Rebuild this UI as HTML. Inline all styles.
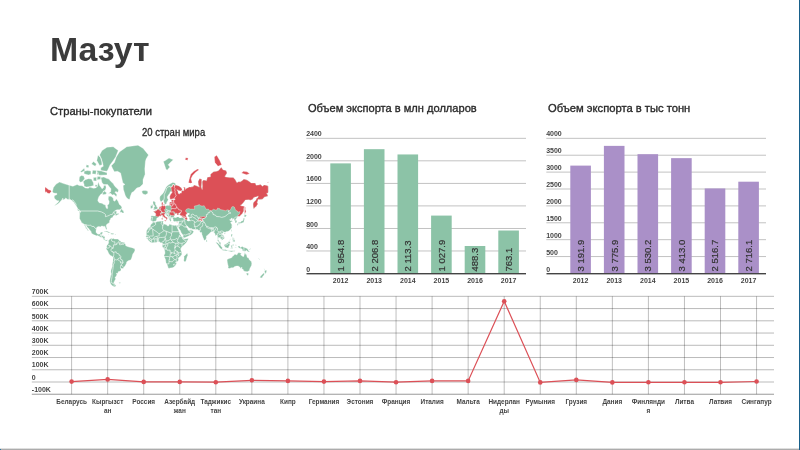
<!DOCTYPE html>
<html lang="ru"><head><meta charset="utf-8"><title>Мазут</title>
<style>
html,body{margin:0;padding:0;background:#fff;}
body{width:800px;height:450px;overflow:hidden;position:relative;font-family:"Liberation Sans",sans-serif;}
svg{position:absolute;left:0;top:0;display:block;}
svg text{font-family:"Liberation Sans",sans-serif;}
.edge-b{position:absolute;left:0;top:447.6px;width:800px;height:2.4px;background:linear-gradient(to bottom,#fff 0%,#c4c4c4 45%,#a8a8a8 80%,#a4a4a4 100%);}
.edge-r{position:absolute;left:798.8px;top:0;width:1.2px;height:450px;background:#17608b;}
.edge-c{position:absolute;left:0;top:449px;width:1px;height:1px;background:#2a76a3;}
</style></head><body>
<svg width="800" height="450" viewBox="0 0 800 450">
<g><path d="M52.4 191.7L53.4 187.4L56.2 184.0L59.6 182.1L63.6 183.6L69.2 185.2L72.9 186.3L77.2 184.5L79.1 185.4L82.2 185.8L85.3 187.9L88.4 188.3L89.6 187.1L93.4 188.3L95.8 187.9L97.4 186.3L98.3 181.7L99.6 185.4L100.8 187.1L102.0 188.8L103.3 187.9L103.9 185.4L105.8 185.4L106.1 187.9L105.1 190.6L103.3 191.1L102.7 193.3L100.8 194.3L98.9 196.7L98.0 199.2L97.8 200.7L99.2 202.8L102.0 203.3L103.9 204.6L105.6 205.0L105.8 207.1L106.7 208.6L107.6 208.6L107.7 207.1L107.3 205.2L108.9 203.9L109.2 201.6L108.2 199.2L108.5 196.3L111.0 196.3L113.2 198.0L113.5 200.5L114.8 201.3L116.0 199.5L116.6 198.9L118.2 201.6L119.4 204.4L121.3 206.0L122.0 208.1L121.3 208.7L119.4 209.8L116.9 209.8L115.1 210.7L113.2 212.5L112.6 213.0L114.4 211.3L116.6 211.0L116.6 212.1L116.3 213.7L118.8 213.3L118.8 214.3L116.9 215.0L115.7 215.9L115.7 214.6L115.1 214.7L113.8 215.4L112.9 216.3L113.2 217.1L112.3 217.6L110.7 218.3L110.7 219.1L109.8 220.3L109.5 221.1L109.6 222.2L108.9 223.0L107.6 223.7L106.4 224.8L106.2 225.9L106.9 228.4L106.9 229.5L106.3 229.6L105.3 227.8L105.3 226.8L104.5 226.3L103.6 226.4L102.3 226.1L101.1 226.1L101.2 226.9L100.2 226.8L98.6 226.5L97.7 226.8L96.5 227.7L96.3 229.0L96.0 231.1L96.1 232.4L97.0 233.6L98.0 234.2L99.6 234.0L100.3 233.5L100.6 232.4L102.0 232.0L102.8 232.2L102.3 233.4L102.0 234.4L101.7 235.6L103.3 235.7L105.0 236.3L104.8 237.9L104.7 238.8L105.4 239.9L106.5 240.1L107.3 239.7L108.7 240.4L108.4 241.1L107.9 240.4L107.3 240.1L106.8 241.0L106.1 240.9L105.1 240.5L104.5 239.7L103.5 239.4L103.4 238.7L102.3 237.5L101.1 237.2L99.9 236.9L98.6 236.0L97.7 235.6L96.5 235.8L94.7 235.1L93.4 234.4L92.1 233.7L91.2 232.8L91.3 231.9L90.6 230.9L89.3 229.5L88.7 228.6L87.8 227.7L86.8 226.6L86.4 225.4L85.4 225.0L85.6 226.3L86.5 227.5L87.5 229.0L88.2 230.3L88.7 231.0L88.2 231.1L87.2 229.9L86.8 228.9L85.8 228.2L85.6 227.3L84.9 226.3L84.1 224.5L83.2 223.4L81.8 222.9L81.1 221.4L80.6 220.5L79.8 219.1L79.5 218.4L79.6 216.3L79.7 213.5L79.3 211.6L80.6 212.4L80.5 211.0L79.4 210.0L77.9 209.1L77.2 207.6L76.0 205.5L75.1 204.4L73.8 202.2L72.3 201.0L71.0 200.1L69.8 199.5L67.3 199.2L65.8 198.0L64.5 199.2L62.7 200.1L63.0 198.0L61.7 199.9L60.8 201.0L59.3 202.8L57.7 204.1L55.5 205.2L54.4 205.4L56.2 203.9L58.3 202.2L58.9 200.8L57.4 200.7L56.2 199.9L54.6 198.6L54.1 197.0L54.6 195.4L56.8 194.7L56.8 193.3L55.5 193.3L53.5 193.1ZM119.8 212.2L120.9 209.4L122.1 208.6L122.2 210.0L123.4 210.8L123.9 212.4L123.4 213.1L122.2 212.9L121.9 212.3ZM77.1 209.3L79.1 209.8L80.0 211.4L79.1 211.3L77.4 210.0ZM116.3 196.8L114.1 194.4L112.3 195.1L110.7 193.3L108.2 193.6L110.7 191.8L111.0 188.8L108.9 186.3L107.6 184.5L103.9 184.5L102.0 182.7L100.8 177.6L103.9 177.0L106.4 178.3L108.9 179.1L110.7 181.3L113.2 183.6L114.8 186.3L118.2 189.6L118.5 191.1L117.2 192.6L116.3 191.4L114.8 192.1L116.9 194.7ZM84.1 186.3L86.5 187.1L90.3 186.6L93.7 185.4L93.4 182.7L91.5 179.1L88.4 178.7L85.3 179.7L83.1 181.7L84.1 184.5ZM79.1 180.7L80.3 182.3L82.2 181.7L84.7 178.7L83.8 176.1L81.3 175.4L79.4 177.0ZM100.8 170.5L107.0 171.3L108.2 169.1L110.1 164.8L112.6 161.6L115.7 156.9L118.2 150.6L113.2 146.7L107.0 147.2L102.0 150.6L99.6 154.9L101.4 158.8L102.7 163.2L103.3 166.3L100.8 167.7ZM97.1 173.0L99.6 175.2L107.0 174.9L107.0 172.8L101.4 171.0L97.1 170.5ZM84.1 173.8L88.4 174.9L90.9 174.2L90.9 171.0L87.2 170.5L84.1 171.3ZM96.8 160.5L99.6 165.4L102.0 164.8L101.7 161.6L100.5 157.7L98.0 154.9ZM93.4 180.7L96.5 181.1L96.5 177.2L93.4 177.6ZM97.1 179.7L100.8 179.3L100.5 176.5L97.4 176.5ZM102.7 194.7L105.8 194.3L106.7 192.9L104.5 191.1L102.7 192.6ZM92.1 173.8L95.8 174.2L96.5 170.5L92.7 170.2ZM80.3 171.8L84.1 168.3L85.0 170.5L81.6 172.3ZM91.5 163.9L95.2 166.3L96.5 163.9L93.4 161.6ZM85.9 166.9L88.4 167.7L89.0 165.4L86.5 164.8ZM96.8 174.2L98.6 174.7L98.6 172.8L97.1 172.5ZM94.9 186.3L97.1 186.9L97.1 184.9L95.5 184.7ZM111.3 165.7L114.4 162.6L116.3 156.9L119.4 152.0L126.8 146.7L138.0 145.2L143.0 148.2L148.5 154.9L146.1 159.1L145.4 161.6L144.8 169.1L145.1 174.2L143.0 179.7L143.0 184.0L139.9 187.1L136.8 187.9L133.7 191.4L131.8 192.6L130.2 196.7L129.8 199.2L128.7 199.2L126.8 198.0L125.3 195.4L124.4 192.6L123.4 189.6L123.1 185.4L125.0 184.5L122.8 182.7L121.9 178.7L120.6 173.0L117.5 171.3L114.4 171.8L112.6 168.6ZM141.7 191.8L143.0 194.0L145.4 194.8L147.9 193.3L147.6 191.1L145.4 190.6L143.0 190.5ZM108.7 240.4L109.8 238.9L111.3 238.5L112.3 237.9L112.3 238.9L113.2 238.3L114.4 238.9L116.9 239.1L118.2 239.0L118.8 240.0L120.0 240.7L121.3 241.9L123.1 242.0L124.7 242.8L125.6 244.7L125.6 245.6L126.8 246.2L129.0 247.1L131.2 247.4L132.7 247.9L134.7 248.8L135.0 250.2L134.3 252.1L133.0 253.7L132.4 255.2L132.1 256.8L131.3 259.1L130.6 260.1L128.7 260.6L126.8 261.8L126.4 263.5L125.3 265.6L124.0 267.3L123.1 268.4L121.6 268.5L120.5 267.8L121.1 269.6L120.6 271.1L118.2 271.7L118.0 273.3L116.3 273.3L116.9 274.7L116.0 276.6L114.8 277.7L115.8 278.8L114.4 281.2L113.8 283.1L114.3 283.6L116.2 285.9L114.4 286.8L112.6 286.0L110.7 284.1L109.8 281.2L110.1 278.4L110.7 275.8L111.3 274.1L110.9 272.1L111.0 270.1L111.6 268.6L112.3 266.4L112.3 264.2L112.9 261.5L113.1 258.1L112.9 257.0L112.0 256.2L110.1 255.2L109.3 254.2L108.5 253.0L107.6 250.8L106.4 249.3L106.2 248.4L107.0 247.6L106.5 247.0L107.0 245.3L107.6 244.7L107.9 244.1L108.7 243.1L108.5 241.6L108.4 241.1ZM152.9 222.0L155.4 222.5L157.2 221.5L159.7 221.3L162.7 220.9L163.4 221.1L162.9 223.0L163.4 223.7L164.7 224.2L166.1 224.6L167.8 225.9L169.0 225.6L169.0 224.2L170.9 224.4L172.1 225.0L174.6 225.6L175.8 225.2L176.6 225.4L176.8 226.3L177.7 228.7L178.6 230.5L179.5 232.4L179.7 233.8L180.5 234.4L181.1 236.0L182.0 236.6L183.4 237.9L183.4 238.5L184.5 239.1L186.4 238.7L188.3 238.2L188.2 239.2L187.0 241.6L186.0 243.1L184.5 244.4L182.6 246.2L181.7 247.1L181.0 248.5L180.7 249.6L181.1 250.8L181.7 252.1L181.8 254.6L180.2 256.4L178.9 257.5L178.2 258.1L178.6 260.1L177.1 261.8L176.9 262.8L175.8 264.9L174.0 267.1L172.4 267.8L170.2 268.0L169.0 268.4L168.0 267.8L167.8 266.4L166.8 263.9L165.9 262.5L165.6 259.8L164.3 256.8L163.9 255.6L165.0 253.3L164.8 251.2L164.2 249.3L163.9 248.4L162.5 247.1L162.2 246.0L162.5 245.0L162.7 243.8L162.2 242.8L160.9 242.9L160.0 242.2L159.3 241.7L157.5 241.8L156.0 242.4L155.4 242.6L154.1 242.4L151.9 242.9L151.0 242.5L149.5 241.4L148.4 240.4L147.6 239.1L147.3 238.9L146.2 237.9L146.2 237.2L145.8 236.5L146.4 235.5L146.5 233.7L146.1 232.4L146.7 230.6L147.6 228.9L148.5 227.8L150.4 226.6L150.5 225.2L151.3 223.9L152.4 223.3ZM187.2 253.0L187.9 255.2L187.3 256.2L186.4 259.5L185.7 261.5L184.5 261.8L183.7 260.5L184.1 258.1L183.9 256.2L185.1 255.4L186.4 254.0ZM151.0 221.1L150.7 219.8L151.1 217.5L150.8 216.3L151.6 215.7L154.1 215.9L155.5 215.9L155.9 214.1L155.2 212.8L153.7 211.9L153.8 211.3L155.6 211.3L155.7 210.3L156.7 210.5L157.6 209.3L158.8 208.7L159.4 207.6L159.7 206.8L160.9 206.4L161.9 206.0L161.7 204.4L161.7 202.8L163.1 202.0L163.0 203.3L162.8 205.0L162.8 205.5L163.4 206.0L164.3 205.6L165.4 206.1L166.8 205.5L168.1 205.2L168.7 205.6L169.6 205.0L169.6 202.8L170.5 202.0L171.5 202.5L171.7 201.3L171.2 200.2L172.7 199.7L174.0 199.9L175.3 199.4L174.3 198.6L173.8 198.6L172.7 198.7L170.9 199.4L169.9 198.5L169.8 196.3L170.5 194.7L172.1 192.6L172.3 191.7L171.5 191.4L170.2 191.8L169.8 193.3L168.4 195.1L167.3 196.7L167.3 198.2L168.3 199.2L167.8 200.7L166.8 202.2L166.5 203.7L165.5 204.3L164.7 204.5L164.5 203.7L163.9 202.0L163.4 200.5L163.1 199.9L162.5 200.7L161.6 201.5L160.6 201.4L159.9 200.1L159.7 198.0L160.0 196.4L161.6 194.7L163.1 193.3L164.3 191.1L165.3 188.8L166.2 187.1L167.4 185.8L169.0 184.5L170.9 183.4L172.5 182.5L174.3 182.7L175.8 184.0L175.7 184.9L177.1 185.4L178.9 185.9L181.4 187.9L182.2 189.6L181.7 190.6L180.2 190.9L178.0 190.2L176.8 189.6L178.0 191.8L178.2 193.4L179.5 194.1L180.2 193.1L181.5 193.1L181.4 191.8L182.6 190.5L183.9 190.8L184.0 188.3L183.6 186.9L185.1 187.4L185.4 189.6L186.4 188.4L189.5 186.9L190.7 187.1L193.2 186.6L194.1 184.9L196.3 185.8L198.1 186.6L199.4 187.1L198.4 184.5L198.1 181.7L199.4 178.7L201.6 179.1L201.7 182.7L201.2 187.1L202.2 189.6L202.5 186.3L202.2 181.7L203.4 180.1L205.0 180.3L206.5 180.7L207.4 177.2L210.5 176.8L210.5 174.2L213.6 171.8L216.7 171.3L218.6 170.5L221.3 167.2L222.9 169.7L226.0 170.5L227.0 173.0L224.8 176.5L226.0 177.0L229.8 177.6L233.2 177.4L235.3 179.7L236.9 182.7L238.4 181.7L240.6 181.7L243.3 179.7L243.7 179.1L247.1 180.1L249.6 181.7L251.1 182.9L255.2 183.0L256.1 185.2L258.3 185.0L260.8 184.5L262.3 186.3L264.2 184.9L267.0 185.6L268.2 186.3L268.2 192.3L267.6 193.3L266.6 193.0L267.8 195.4L267.6 196.3L264.5 197.0L262.3 199.2L259.5 199.5L258.0 199.4L257.7 201.6L257.0 201.9L257.8 203.9L257.0 205.2L255.8 206.9L254.9 207.3L253.8 209.1L253.3 207.1L253.1 203.9L253.8 201.9L255.2 201.0L256.7 198.6L258.0 197.4L258.3 196.0L255.8 197.1L255.5 197.0L253.8 197.4L252.4 199.6L250.2 200.2L249.0 199.7L245.3 200.1L243.7 202.2L241.8 204.4L240.4 205.3L241.8 206.0L243.4 206.0L244.2 206.9L243.7 208.6L243.7 211.0L242.5 213.3L240.9 215.0L239.1 216.5L238.3 216.1L237.6 216.9L237.0 217.5L236.9 218.3L235.6 219.1L236.1 219.9L236.8 221.1L236.8 222.2L236.3 222.6L235.0 223.1L235.0 221.9L235.2 220.9L234.1 220.3L234.2 219.1L233.7 218.7L232.2 219.5L231.8 219.5L232.4 218.3L231.6 218.0L230.4 219.4L229.6 219.7L230.3 220.7L231.4 220.5L232.6 220.9L232.6 221.2L231.2 221.9L230.6 222.6L231.5 224.1L232.1 225.0L232.2 225.6L231.3 226.1L232.2 226.4L231.9 227.5L231.0 228.7L230.4 229.5L229.4 230.4L228.8 231.1L227.5 231.5L226.8 231.5L225.4 232.1L225.0 232.9L224.6 232.1L223.6 232.0L222.8 232.7L222.1 233.7L222.6 234.7L223.7 235.6L224.4 237.5L224.3 238.5L223.1 239.2L222.8 239.7L221.7 240.2L221.6 239.2L220.8 239.0L220.3 238.3L219.2 237.7L218.9 237.2L218.6 237.9L218.2 239.1L218.2 239.9L218.8 240.5L219.2 241.4L220.0 241.8L220.7 242.8L220.8 243.9L221.2 244.7L220.8 244.8L219.4 243.9L218.8 242.2L218.4 241.6L217.5 240.7L217.7 239.4L217.7 238.2L217.2 236.6L217.1 235.3L216.1 235.1L215.7 235.8L215.1 235.6L215.2 234.4L214.6 233.1L213.8 232.4L213.5 231.5L212.7 231.5L211.8 231.9L210.5 232.1L210.4 232.7L209.3 233.4L207.6 235.2L206.4 236.0L206.4 237.4L206.1 239.2L205.6 239.7L205.1 240.1L204.6 240.6L204.0 239.9L203.5 238.5L203.0 237.5L202.5 236.1L201.9 234.4L201.7 232.9L201.6 232.2L201.2 232.4L200.3 232.5L199.4 231.5L200.2 231.1L199.1 230.7L198.3 229.9L197.8 229.5L195.0 229.6L192.2 229.3L191.6 228.4L190.4 228.6L189.1 228.0L188.0 226.8L187.6 226.1L186.8 226.1L186.4 226.4L186.7 227.5L187.6 228.6L187.8 229.4L188.2 229.9L188.5 229.0L188.7 230.2L190.1 230.3L191.4 228.9L191.6 230.1L193.0 230.7L193.7 231.5L192.9 232.9L192.4 233.7L191.3 234.5L190.7 235.0L189.0 235.8L187.0 236.8L184.5 237.7L183.6 237.7L183.1 236.4L183.1 235.3L182.0 233.7L180.9 232.2L180.5 230.7L179.7 229.7L178.6 227.9L178.3 227.3L178.2 226.6L177.9 227.8L176.8 226.3L176.6 225.4L177.8 225.3L178.2 224.5L178.6 223.4L178.9 222.2L179.0 221.3L178.1 221.3L177.1 221.8L175.6 221.3L174.9 221.7L173.7 221.3L172.9 220.1L173.3 219.4L172.8 218.7L173.0 218.4L172.7 218.3L171.5 218.1L171.2 218.6L170.7 218.4L170.7 219.3L171.5 220.2L171.0 220.4L170.9 221.5L170.1 221.3L169.7 220.1L169.0 219.0L168.6 217.5L168.4 216.9L167.4 216.3L166.2 215.4L165.6 214.4L165.1 214.1L164.3 214.3L164.3 215.3L165.0 215.9L165.4 216.8L166.5 217.3L168.1 218.6L168.0 218.8L167.1 218.3L166.9 219.0L167.2 219.5L166.8 220.0L166.3 220.3L166.5 219.4L166.2 218.7L165.5 218.1L164.3 217.4L163.4 216.7L163.0 215.9L162.1 215.1L161.2 215.6L160.4 216.2L159.4 215.9L158.5 216.7L158.6 217.3L157.1 218.1L156.4 219.1L156.7 219.8L156.2 220.6L155.4 221.3L153.9 221.3L153.2 221.9L152.7 221.4L152.1 220.9ZM153.1 209.9L154.4 209.7L156.0 209.3L157.5 208.9L157.7 207.4L156.8 207.1L156.5 205.8L155.7 204.8L155.4 203.9L155.4 202.1L154.4 202.0L154.7 200.9L153.5 200.9L152.9 202.4L153.2 203.9L153.6 205.2L154.6 205.7L154.7 206.7L153.8 206.9L154.0 207.8L153.4 208.3L154.4 208.7L153.8 209.0ZM150.4 208.3L151.6 208.4L152.8 207.8L152.9 206.0L153.0 205.0L151.9 204.6L151.3 205.5L150.4 205.8L150.7 206.9ZM163.4 161.6L165.9 169.1L167.1 170.2L169.9 166.9L168.1 164.8L169.6 163.2L173.3 159.8L169.0 158.0L165.3 160.5ZM243.4 217.5L244.2 216.3L244.5 214.2L246.7 215.6L245.4 217.1L244.0 216.7ZM244.2 217.7L244.6 219.1L244.0 220.7L243.9 222.1L243.3 222.6L242.5 222.8L241.5 222.9L240.8 223.7L240.3 222.9L238.8 223.4L237.8 223.4L237.8 222.9L238.9 222.2L240.6 222.2L241.4 220.9L242.5 220.9L243.3 219.5L243.4 218.3ZM237.2 223.7L238.3 223.7L238.1 225.2L237.4 225.4L237.1 224.2ZM238.8 223.5L240.0 223.2L239.9 223.7L239.1 224.2ZM231.9 229.6L232.1 230.1L231.5 231.7L231.1 231.1L231.6 229.7ZM224.0 233.5L225.1 233.1L225.4 233.4L224.5 234.2ZM206.2 239.5L207.3 241.0L206.9 241.8L206.2 241.9L206.1 240.7ZM231.3 234.0L232.4 234.1L232.2 235.6L231.9 236.8L233.5 237.5L233.2 237.8L231.9 237.1L231.2 236.6L231.0 235.6ZM232.2 241.0L233.2 240.4L234.4 239.5L235.0 241.0L234.4 242.0L233.5 241.6ZM232.2 238.5L233.5 238.5L234.4 238.8L234.1 239.4L232.9 239.7L232.2 239.1ZM229.3 240.4L230.7 238.8L230.8 239.1L229.6 240.5ZM224.2 244.7L224.5 244.4L225.7 243.9L226.7 243.4L227.9 242.5L229.1 241.3L230.4 242.4L229.6 243.1L229.8 245.0L228.8 246.5L228.5 247.9L227.6 248.1L225.7 247.4L224.8 246.5L224.2 245.6ZM215.7 242.2L217.1 242.4L218.9 244.1L220.8 245.6L221.4 246.8L222.3 247.6L222.2 249.2L221.4 249.2L219.8 248.1L218.9 246.5L217.8 244.7L216.7 243.6ZM221.8 249.8L222.8 249.3L223.9 249.7L225.4 249.6L226.5 249.9L227.6 250.4L227.6 251.0L225.4 250.7L223.6 250.4L222.6 250.2ZM228.0 250.7L230.4 250.7L232.9 250.7L234.1 250.7L235.3 250.8L233.8 251.9L233.2 252.0L234.0 251.2L231.0 251.9L230.4 251.5L229.1 251.2L228.0 251.0ZM230.7 249.0L231.2 247.3L230.9 245.3L231.6 244.9L234.1 244.6L233.8 245.4L231.5 245.4L231.8 246.2L233.0 246.2L232.1 246.8L232.7 248.4L231.9 248.5L231.5 247.4L231.2 249.0ZM235.6 244.4L236.4 245.0L236.0 246.1L235.6 245.3ZM234.7 247.6L236.0 247.4L237.7 247.7L236.6 247.8L235.3 247.9ZM237.8 246.1L239.7 246.1L240.3 247.6L242.2 246.6L244.0 247.2L246.5 248.2L248.2 249.3L247.7 249.8L249.9 252.0L248.1 251.8L246.2 250.3L245.3 251.2L244.0 251.2L242.5 250.7L242.2 249.0L240.3 248.3L238.9 248.1L238.4 247.3ZM248.5 249.0L249.9 249.0L251.0 248.2L250.8 248.9L249.6 249.5ZM227.0 259.5L227.3 262.2L227.9 264.9L228.3 266.4L227.9 268.1L229.8 268.6L231.0 267.8L233.2 267.8L234.7 266.6L236.6 266.1L238.1 266.0L239.7 267.0L240.7 268.4L242.0 267.1L241.8 269.0L243.1 269.3L243.7 270.9L245.6 271.5L247.3 271.7L249.5 270.5L249.7 269.0L250.4 267.5L251.5 265.6L251.8 263.7L251.5 261.8L250.2 260.5L249.3 259.7L248.7 258.1L247.3 257.5L246.8 255.9L246.7 254.8L245.6 254.3L244.9 252.3L244.5 253.7L244.0 255.6L243.8 256.5L242.8 256.4L241.5 255.4L240.6 254.9L241.4 253.2L240.3 253.0L238.8 252.6L237.8 253.2L237.0 254.8L236.1 254.8L235.3 254.2L234.4 254.6L233.5 255.8L232.4 256.2L232.2 257.2L230.7 258.1L229.0 258.5L227.6 259.3ZM246.3 273.1L248.5 273.2L248.4 275.1L247.4 275.4L246.6 274.3ZM263.7 268.2L264.8 269.6L265.7 270.6L267.1 270.6L266.3 272.1L266.2 272.9L265.2 273.8L265.0 272.5L264.4 271.9L265.0 270.7L264.0 268.7ZM263.7 272.9L264.6 273.8L263.7 275.6L262.6 276.6L262.4 277.5L261.1 278.0L259.8 277.3L260.9 275.8L262.7 274.1ZM258.3 258.3L260.0 259.6L259.6 259.7L258.2 258.5ZM103.9 231.8L105.4 231.1L107.0 231.1L108.9 232.1L110.6 232.9L108.5 233.1L108.2 232.6L106.7 231.9L105.8 231.4L104.5 231.9ZM110.5 234.1L111.3 233.1L113.2 233.2L114.2 234.0L113.2 234.2L112.3 234.5ZM108.1 234.1L109.3 234.2L108.7 234.5ZM114.9 234.0L115.9 234.1L115.8 234.4L114.9 234.4ZM161.7 218.0L162.6 217.9L162.6 219.4L161.9 219.5ZM162.0 216.6L162.4 216.3L162.4 217.5L162.1 217.4ZM171.2 222.2L172.8 222.5L172.0 222.7ZM118.8 282.6L120.6 282.5L120.3 283.3L119.1 283.3Z" fill="#8cc3a7" stroke="#fff" stroke-width="0.35" stroke-linejoin="round"/>
<path d="M174.6 217.8L176.0 217.8L177.4 217.1L178.3 217.1L179.2 217.7L180.5 218.0L182.3 217.5L182.3 216.6L181.4 215.9L180.2 215.0L179.5 214.3L180.3 213.5L180.9 212.6L180.3 212.7L179.8 212.8L178.4 213.4L178.6 214.3L179.2 214.4L178.3 214.7L177.4 215.0L176.8 214.1L177.4 213.6L176.4 213.3L175.7 213.3L175.0 214.3L174.3 215.6L174.0 216.7L174.0 217.3ZM187.0 213.4L188.2 213.0L189.5 213.3L189.5 214.6L188.2 215.0L187.9 216.3L189.1 217.1L189.5 218.7L190.0 221.1L188.2 221.3L187.0 220.7L187.2 218.7L186.7 217.3L186.0 216.3L185.9 214.7Z" fill="#fff"/>
<path d="M175.7 184.9L177.1 185.4L178.9 185.9L181.4 187.9L182.2 189.6L181.7 190.6L180.2 190.9L178.0 190.2L176.8 189.6L178.0 191.8L178.2 193.4L179.5 194.1L180.2 193.1L181.5 193.1L181.4 191.8L182.6 190.5L183.9 190.8L184.0 188.3L183.6 186.9L185.1 187.4L185.4 189.6L186.4 188.4L189.5 186.9L190.7 187.1L193.2 186.6L194.1 184.9L196.3 185.8L198.1 186.6L199.4 187.1L198.4 184.5L198.1 181.7L199.4 178.7L201.6 179.1L201.7 182.7L201.2 187.1L202.2 189.6L202.5 186.3L202.2 181.7L203.4 180.1L205.0 180.3L206.5 180.7L207.4 177.2L210.5 176.8L210.5 174.2L213.6 171.8L216.7 171.3L218.6 170.5L221.3 167.2L222.9 169.7L226.0 170.5L227.0 173.0L224.8 176.5L226.0 177.0L229.8 177.6L233.2 177.4L235.3 179.7L236.9 182.7L238.4 181.7L240.6 181.7L243.3 179.7L243.7 179.1L247.1 180.1L249.6 181.7L251.1 182.9L255.2 183.0L256.1 185.2L258.3 185.0L260.8 184.5L262.3 186.3L264.2 184.9L267.0 185.6L268.2 186.3L268.2 192.3L267.6 193.3L266.6 193.0L267.8 195.4L267.6 196.3L264.5 197.0L262.3 199.2L259.5 199.5L258.0 199.4L257.7 201.6L257.0 201.9L257.8 203.9L257.0 205.2L255.8 206.9L254.9 207.3L253.8 209.1L253.3 207.1L253.1 203.9L253.8 201.9L255.2 201.0L256.7 198.6L258.0 197.4L258.3 196.0L255.8 197.1L255.5 197.0L253.8 197.4L252.4 199.6L250.2 200.2L249.0 199.7L245.3 200.1L243.7 202.2L241.8 204.4L240.4 205.3L241.8 206.0L243.4 206.0L244.2 206.9L243.7 208.6L243.7 211.0L242.5 213.3L240.9 215.0L239.1 216.5L238.3 216.1L237.6 216.9L237.8 216.3L238.0 214.7L239.2 214.4L240.1 211.5L237.8 212.2L237.5 211.1L235.6 210.2L234.4 207.1L233.2 206.5L231.9 206.8L231.5 207.5L230.6 209.6L229.6 210.5L229.0 210.2L227.6 209.8L225.4 210.7L222.9 210.0L220.0 209.5L220.0 208.8L217.5 208.1L217.4 209.5L215.5 210.0L213.6 209.3L211.8 210.4L210.7 210.8L209.6 210.4L208.4 209.1L206.2 209.3L204.8 206.8L204.2 205.7L202.2 206.0L200.6 205.8L199.4 204.6L196.9 205.6L194.4 206.0L194.4 207.8L194.7 209.3L192.9 209.1L190.4 209.1L188.1 208.4L186.0 209.6L185.6 210.7L185.7 211.7L186.7 212.1L187.0 213.4L185.9 214.7L186.0 216.3L186.7 217.3L185.4 217.3L184.2 216.5L182.9 216.1L181.4 215.9L180.2 215.0L179.5 214.3L180.3 213.5L180.9 212.6L180.3 212.7L181.3 212.1L181.4 210.5L180.2 210.1L178.6 209.6L177.7 207.8L176.1 207.9L176.8 206.9L175.8 205.4L175.7 204.3L174.0 203.7L173.7 201.9L173.6 200.7L174.0 199.9L175.3 199.4L174.3 198.6L173.8 198.6L174.9 197.6L176.1 195.5L175.5 194.0L175.0 192.9L175.2 191.5L174.6 189.9L175.2 188.8L174.3 187.6L174.6 186.3ZM45.0 186.9L46.9 188.3L48.1 189.6L50.6 190.3L51.4 191.2L49.6 193.6L47.8 193.3L45.9 191.5L45.0 192.7ZM168.8 205.6L169.6 205.0L170.7 205.1L170.7 205.6ZM188.5 182.7L190.7 183.2L192.2 182.7L191.0 178.7L192.6 175.4L195.7 172.3L199.1 169.7L197.5 169.1L193.8 171.3L190.7 174.2L189.1 179.7ZM214.9 162.6L218.0 166.3L221.7 164.8L219.8 160.5L216.7 155.3L214.3 156.9ZM241.5 173.0L246.5 174.7L249.6 173.8L247.1 171.8L243.4 171.3ZM185.1 159.8L187.6 160.2L188.2 158.0L185.7 157.7ZM267.3 182.7L268.2 181.7L268.2 182.9ZM244.6 205.7L245.4 207.6L245.4 210.0L246.2 211.0L245.3 213.3L244.6 213.7L244.6 211.9L244.6 209.5L244.5 207.6ZM169.4 186.2L170.2 187.1L172.0 186.9L172.7 184.7L174.0 184.5L174.6 186.1L174.3 187.6L175.2 188.8L174.6 189.9L175.2 191.5L175.0 192.9L175.5 194.0L176.1 195.5L174.9 197.6L173.8 198.6L172.7 198.7L170.9 199.4L169.9 198.5L169.8 196.3L170.5 194.7L172.1 192.6L172.3 191.7L171.5 191.4L171.3 188.8L170.2 187.1ZM171.2 200.2L172.7 199.7L174.0 199.9L173.6 200.7L173.7 201.9L172.7 202.1L171.7 201.6L171.7 201.3ZM169.6 202.8L170.5 202.0L171.5 202.5L171.7 201.6L172.7 202.1L173.7 201.9L174.0 203.7L173.1 204.2L171.8 203.6L169.6 203.8ZM169.6 203.8L171.8 203.6L173.1 204.2L172.6 205.8L171.2 206.1L170.7 205.6L170.7 205.1L169.6 205.0ZM171.2 206.1L172.6 205.8L173.1 204.2L174.0 203.7L175.7 204.3L175.8 205.4L176.8 206.9L176.1 207.9L175.5 208.8L173.3 208.5L171.2 208.5L171.2 207.6ZM171.2 208.5L173.3 208.5L175.5 208.8L176.1 207.9L177.7 207.8L178.6 209.6L180.2 210.1L181.4 210.5L181.3 212.1L180.3 212.7L179.8 212.8L178.4 213.4L178.6 214.3L179.2 214.4L178.3 214.7L177.4 215.0L176.8 214.1L177.4 213.6L176.4 213.3L175.7 213.3L175.0 214.3L174.1 214.2L174.1 213.3L175.2 213.3L174.9 212.4L173.7 211.5L173.0 211.7L172.0 212.1L170.5 211.8L170.4 211.0L171.4 209.6ZM170.5 211.8L172.0 212.1L173.0 211.7L174.1 213.3L174.1 214.2L175.0 214.3L174.3 215.6L173.3 215.4L170.9 215.6L170.5 214.9L169.9 214.7L169.2 213.6L169.9 212.8ZM160.9 206.4L161.9 206.0L161.9 205.1L162.7 205.2L162.8 205.5L163.4 206.0L164.3 205.6L165.4 206.1L165.7 209.1L164.2 209.7L165.2 211.3L164.7 212.4L162.8 212.4L161.3 212.3L161.7 211.0L160.6 210.5L160.3 209.1L160.9 207.8ZM158.8 208.7L159.4 207.6L159.7 206.8L160.9 206.4L160.9 207.8L160.3 209.1L160.0 208.8ZM161.9 205.1L161.7 204.4L161.7 202.8L163.1 202.0L163.0 203.3L162.8 205.0L162.7 205.2ZM163.4 204.2L164.3 203.9L164.3 205.0L163.5 205.2ZM155.5 215.9L155.9 214.1L155.2 212.8L153.7 211.9L153.8 211.3L155.6 211.3L155.7 210.3L156.7 210.5L157.6 209.3L158.2 209.0L159.2 210.0L160.6 210.5L161.7 211.0L161.3 212.3L160.3 213.4L160.9 213.8L160.9 215.3L161.2 215.6L160.4 216.2L159.4 215.9L158.5 216.7L157.5 216.7ZM160.9 213.8L161.9 213.3L163.1 213.0L164.2 212.8L165.1 213.3L165.1 214.1L164.3 214.3L164.3 215.3L165.0 215.9L165.4 216.8L166.5 217.3L168.1 218.6L168.0 218.8L167.1 218.3L166.9 219.0L167.2 219.5L166.8 220.0L166.3 220.3L166.5 219.4L166.2 218.7L165.5 218.1L164.3 217.4L163.4 216.7L163.0 215.9L162.1 215.1L161.2 215.6L160.9 215.3ZM164.3 220.3L166.2 220.2L166.0 221.3L164.7 220.9ZM161.7 218.0L162.6 217.9L162.6 219.4L161.9 219.5ZM162.0 216.6L162.4 216.3L162.4 217.5L162.1 217.4ZM181.4 215.9L182.9 216.1L184.2 216.5L185.4 217.3L185.4 217.9L184.5 217.8L183.6 217.9L182.3 217.5L182.3 216.6ZM185.4 217.3L186.7 217.3L187.2 218.5L187.8 218.5L187.2 219.3L186.9 220.0L186.4 219.7L185.4 219.6L185.1 219.0L184.5 217.8L185.4 217.9ZM199.6 217.3L200.6 216.6L202.2 216.7L203.1 216.4L205.6 216.6L206.3 217.0L205.3 217.8L204.0 218.4L202.5 218.7L202.3 219.1L200.9 219.1L199.7 219.1L199.7 218.7L201.2 218.5L201.9 218.1L200.9 217.6L200.3 217.8ZM198.4 219.3L199.7 218.7L200.3 218.1L200.3 218.7L199.7 219.1L200.9 219.1L202.3 219.1L202.5 219.9L203.1 220.8L202.2 220.9L201.2 221.3L200.9 220.4L200.0 220.6L198.8 221.1ZM176.6 222.6L177.4 222.4L178.0 222.1L177.7 222.6L177.1 222.9ZM220.8 244.7L221.1 244.7L221.0 244.9ZM165.4 221.8L165.7 221.9L165.5 222.1Z" fill="#dc5057" stroke="#fff" stroke-width="0.3" stroke-linejoin="round"/>
<path d="M69.2 185.2L69.2 199.0L71.3 200.6L72.9 199.9L76.0 204.0L76.0 205.5M80.5 211.0L97.7 211.0L101.4 211.9L104.2 213.3L105.4 214.3L105.4 216.7L107.6 216.0L109.2 215.4L110.3 214.6L112.3 214.6L113.7 212.4L114.6 212.8L115.1 214.7M84.1 224.5L85.4 224.5L87.8 225.3L89.5 225.3L90.6 225.0L91.8 226.5L93.0 226.4L94.0 226.5L94.9 228.0L96.3 229.0M99.4 236.6L99.9 235.6L100.5 235.6L100.2 234.5L101.3 234.5L101.9 234.1M101.3 234.5L101.3 235.7L101.9 235.8M101.2 236.7L102.2 237.3M101.2 236.7L101.3 235.7M102.2 237.5L103.0 237.0L103.9 236.5L105.0 236.3M103.5 238.7L104.1 238.8L104.7 238.9M105.1 240.5L105.2 239.7M112.1 233.3L112.1 234.4M112.4 238.3L111.3 239.7L111.8 241.1L113.5 241.8L114.8 241.8L114.9 244.1L115.1 244.9M115.1 244.9L113.3 244.9L113.5 245.9L113.2 248.2M113.2 248.2L111.3 247.0L109.9 245.7L108.5 245.4L107.6 244.7M109.9 245.7L109.8 247.1L107.9 248.4L106.8 247.7M115.1 244.9L116.9 244.4L116.6 243.1L118.8 242.8L119.0 242.4M119.0 242.4L118.6 241.9L119.4 240.4M119.0 242.4L119.5 242.8L119.5 244.7L120.6 244.7L121.6 244.4M121.1 241.9L120.6 243.1L121.6 244.4L122.8 244.2M123.1 242.0L122.8 244.2L124.0 244.2L124.6 243.0M113.2 248.2L111.5 248.7L110.8 250.1L111.6 251.5L112.9 251.5L112.8 252.4L113.5 252.4M113.5 252.4L116.1 251.7L116.3 253.0L119.1 254.1L119.4 255.8L120.5 255.8L120.9 256.8L120.6 258.1M113.5 252.4L113.8 253.3L113.8 254.9L113.5 256.5L113.0 257.0M113.5 256.5L114.1 257.8L114.3 259.1L114.9 260.0M114.9 260.0L115.9 259.5L116.7 260.0L117.7 259.6M117.7 259.6L118.2 258.5L120.0 257.7L120.6 258.1M120.6 258.1L120.8 259.5L122.1 259.7L122.2 260.8L122.9 260.8L122.7 261.9M117.7 259.6L119.4 260.8L120.9 261.7L120.3 263.0L121.9 263.0L122.7 261.9M122.7 261.9L123.2 263.0L122.0 263.7L120.9 265.1M120.9 265.1L120.5 266.7L120.4 267.8M120.9 265.1L122.2 265.6L123.5 267.6M114.9 260.0L114.1 261.1L114.3 262.8L113.3 264.9L113.2 267.1L112.9 269.3L112.5 271.7L112.1 274.1L112.1 276.6L111.6 279.3L111.3 281.7L111.8 283.1L114.1 283.4M114.1 283.7L114.1 286.1M155.4 222.5L155.7 224.5L154.4 225.6L153.2 226.4L151.2 227.2L151.2 228.2M148.5 227.9L151.2 227.9L151.2 229.0L149.2 229.0L149.2 230.7L148.5 231.1L148.5 232.2L146.1 232.2M151.2 228.2L153.6 229.7L157.3 232.3L158.5 233.4L159.2 233.6L159.2 235.3L158.8 236.0L156.7 236.3M153.6 229.7L152.6 229.7L153.2 235.3L153.2 236.0L150.4 236.0L149.2 236.4M146.4 235.6L147.9 235.3L149.2 236.4L149.5 237.9L148.1 237.8L146.2 237.9M146.2 237.2L147.9 237.2L147.9 237.4L146.2 237.5M147.3 238.9L148.1 238.4L148.1 237.8M149.5 237.9L151.3 238.8L151.6 239.3L153.2 239.2M151.6 239.3L151.5 241.0L151.9 242.9M149.5 241.4L150.2 240.4L151.5 241.0M148.4 240.0L150.0 239.4L150.2 240.4M154.9 242.5L154.7 240.7L154.9 238.8M153.2 239.2L154.9 238.8L157.2 238.8L158.0 238.0L158.8 238.4M153.2 239.2L153.8 237.5L155.4 236.6L156.7 236.3L156.9 237.2L158.0 238.0M157.3 241.8L156.9 240.4L157.2 238.8M158.3 241.7L158.5 240.0L158.8 238.4M157.7 241.8L157.5 240.0L157.2 238.8M158.8 238.4L159.1 237.2L160.9 237.5L162.8 237.4L165.0 237.1L165.3 237.5M159.2 233.6L160.3 233.2L164.0 230.7L165.9 231.1L166.5 233.1L166.2 235.1L165.0 237.1M164.0 230.7L162.5 228.8L162.7 226.1L162.2 224.8L161.2 223.5L161.7 221.5L161.9 221.2M162.7 226.1L163.7 224.0M172.1 225.1L172.1 231.7M172.1 231.7L179.5 231.7M172.1 231.7L172.1 233.1L171.5 233.1L171.5 233.4L165.9 231.1M171.5 233.4L171.5 235.8L170.5 236.9L170.2 237.7L170.8 238.9M165.3 237.5L165.6 238.2L165.9 239.4L165.3 239.4L166.2 241.0M165.3 238.0L164.7 239.4L163.9 241.3L162.8 241.4L161.9 242.6M166.2 241.0L168.1 240.7L170.8 238.9M170.8 238.9L171.2 240.2L173.6 242.5M166.2 241.0L165.6 242.2L166.5 244.2M166.5 244.2L168.1 243.4M168.1 243.4L168.7 242.5L170.5 243.0L172.1 242.5L173.6 242.5M171.2 240.2L172.7 239.7L174.0 239.7L175.2 239.4L176.8 238.2L177.2 239.1L177.7 239.7M177.7 239.7L177.1 240.8L178.3 242.3L178.9 242.8M173.6 242.5L175.2 243.3L175.8 243.4L177.7 243.0L178.9 242.8M177.7 239.7L178.3 238.5L179.1 236.7L179.5 235.0L180.5 234.4M179.1 236.7L180.2 236.5L181.7 236.9L182.9 237.9M182.9 237.9L182.5 238.8L183.1 238.8L183.4 238.5M183.1 238.8L183.9 240.0L185.7 240.7L186.4 240.7L184.5 242.5L182.6 243.0M182.6 243.0L181.1 243.4L178.9 242.9L178.9 242.8M182.6 243.0L182.0 243.8L182.0 246.1L182.3 246.6M177.7 243.0L178.3 244.7L177.7 245.6L177.7 246.2M177.7 246.2L180.0 247.6L180.9 248.5M175.7 243.4L175.8 244.4L175.0 245.3L175.0 246.5L175.5 246.2L177.7 246.2M175.0 246.5L175.7 247.1L174.8 248.4L175.0 249.6L175.7 250.7M175.0 246.5L174.6 247.3L174.8 248.4M174.6 247.3L175.7 247.1M175.7 250.7L177.0 251.4L177.7 251.5L178.1 252.7L179.8 252.8L181.6 252.1M178.1 252.7L178.8 254.6L178.5 255.9L177.9 254.6L177.1 254.3L177.2 253.3L177.0 251.4M175.7 250.7L174.5 250.8L174.2 251.5L174.3 252.9L175.1 253.2L175.1 253.9L174.0 253.3L171.5 252.4L171.5 253.7L170.2 253.7L170.2 255.7L171.1 256.6M164.2 249.2L164.7 249.2L166.9 249.2L167.1 250.2L168.7 250.2L170.1 250.1L170.2 252.4L171.5 252.4M171.1 256.6L169.6 256.8L168.1 256.5L165.3 256.5L163.9 256.3M169.6 256.8L169.6 259.5L169.0 259.5L169.0 261.3L169.0 263.8L167.1 263.9L166.8 263.9M169.0 261.3L170.9 261.7L172.4 261.8L173.3 260.5L174.8 259.6M171.1 256.6L172.3 256.7L172.7 257.8L173.8 258.5L174.8 259.6M172.3 256.7L173.3 256.8L174.5 255.6L175.4 255.3M175.4 255.3L177.0 256.0L177.1 257.2L176.8 259.0L176.0 259.7M174.8 259.6L176.0 259.7L176.4 261.1L176.4 262.7L177.0 262.8M175.4 255.3L177.1 254.3M164.2 248.7L164.7 248.4L165.5 248.6L166.5 248.6L166.6 247.0L167.6 245.9L167.8 244.4L168.1 243.4M163.5 248.0L164.0 247.1L165.5 246.8L165.5 245.9L164.8 244.2M162.7 244.2L164.8 244.2L166.5 244.2M162.6 245.0L163.6 245.0L163.6 244.2M173.3 264.7L174.3 263.9L174.8 264.6L174.1 265.4L173.3 264.7M175.8 262.0L176.4 262.2L176.4 262.7L175.8 263.0L175.8 262.0M189.1 217.3L191.0 217.7L191.3 214.6L192.9 214.1L194.4 215.2L195.0 215.9L196.8 215.7L197.5 217.1L197.8 217.8L198.8 217.9L199.6 217.3M206.3 217.0L206.5 216.1L206.3 214.6L207.8 214.3L208.1 212.6L209.6 212.7L209.8 211.5L210.7 210.8M191.3 217.7L192.6 216.7L193.8 217.7L195.0 217.9L195.3 218.7L196.6 219.6L197.9 220.3L197.8 220.8L198.8 221.1M198.8 217.9L198.4 219.3M190.0 220.9L191.6 220.2L192.9 220.6L194.5 221.4L194.6 222.2M194.6 222.2L195.7 222.3L196.6 221.6L197.8 220.8M194.6 222.2L194.2 223.7L194.3 225.2L194.9 225.3L194.4 226.4L195.7 228.2L194.8 229.6M194.4 226.4L196.3 226.6L197.7 226.3L198.1 225.3L199.6 224.9L200.0 223.7L200.6 223.0L200.9 221.6L202.8 221.1M198.9 230.6L200.6 230.1L200.0 229.0L200.3 227.7L201.6 227.0L202.5 225.9L202.8 224.5L202.5 223.4L204.3 222.2M204.3 222.2L205.6 224.5L205.4 225.4L206.8 226.1L208.7 227.0L209.9 227.7L211.2 227.7L211.7 227.7L213.6 227.8L215.2 226.8L216.9 227.5M206.8 226.1L206.3 227.1L208.1 228.1L209.3 228.6L211.2 228.8L211.2 227.7M211.7 227.7L211.7 228.5L213.6 228.5L213.6 227.8M211.2 228.8L211.8 229.0L212.3 229.5L213.8 229.7L213.1 230.5L213.8 231.1L213.8 232.4M211.2 228.8L211.3 229.7L211.7 230.9L211.8 231.9M216.9 227.5L215.6 228.7L215.0 230.4L214.4 230.7L214.0 231.7L213.8 232.4M216.9 227.5L217.8 229.0L217.1 230.4L218.1 231.6L219.3 232.1M219.3 232.1L218.7 232.9L217.4 233.3L217.0 234.0L217.8 235.4L217.5 236.3L218.1 237.7L218.3 238.5L217.7 239.4M218.7 232.9L219.0 233.4L219.3 234.6L220.0 234.4L221.1 234.2L221.6 235.4L222.1 236.7M222.1 236.7L220.5 236.8L220.1 237.7L220.4 238.4M220.0 231.5L220.5 232.5L221.5 232.8L221.1 233.4L221.8 233.9L222.6 235.1L223.3 236.2L223.2 236.6M222.1 236.7L223.2 236.6L223.2 238.0L222.3 238.4L221.4 239.2M219.3 232.1L220.0 231.5L221.9 230.9L222.8 231.2L223.6 232.0M218.7 241.7L219.3 242.1L219.9 241.8M210.7 210.8L211.5 211.7L213.0 212.9L213.0 214.4L215.7 215.3L216.4 216.5L219.5 216.7L221.7 217.4L225.0 216.5L226.0 215.7L227.3 214.7L228.9 213.4L230.9 213.1L229.6 212.2L228.3 212.0L229.0 210.2M237.6 216.8L236.0 217.1L235.3 217.3L233.7 218.7M235.2 220.5L236.2 219.9M206.3 217.0L205.3 217.8L204.0 218.4L202.5 218.7L202.3 219.1L202.5 219.9L203.1 220.8L202.8 221.1L204.3 222.2M198.8 221.1L200.0 220.6L200.9 220.4L201.2 221.3L202.2 220.9L203.0 220.8M179.0 221.7L179.4 221.3L180.5 221.3L182.8 220.9L184.4 220.9L184.0 219.2L184.4 219.0L183.6 217.9L182.3 217.5M184.4 219.0L185.1 219.0M183.6 217.9L184.5 217.8M184.4 219.0L185.4 219.6M184.4 220.9L185.1 222.0L184.8 223.0L185.3 224.1L186.2 225.0L186.7 226.3M182.8 220.9L182.1 222.8L180.7 223.8M180.9 224.7L182.6 225.5L184.3 226.8L185.4 226.9L186.2 226.2L186.4 226.3M185.4 226.9L186.6 227.3M180.7 223.8L180.9 224.7L179.5 225.2L180.2 225.9L178.9 226.8L178.3 226.7M178.7 224.3L179.4 224.6L180.7 223.8M178.4 224.0L178.7 224.3L178.6 225.2L178.3 226.6M178.9 222.9L179.2 223.2L178.8 223.9L178.4 224.0M177.8 225.3L178.2 226.6M183.1 235.4L183.9 234.7L185.7 235.0L188.8 233.7L190.7 233.1L191.1 231.7L190.8 231.3L189.2 231.1L188.6 230.3M188.8 233.7L189.5 235.3M190.8 231.3L191.3 229.8L191.5 229.3M188.1 229.9L188.3 230.0M243.9 247.2L244.0 251.2M224.6 244.4L225.4 245.0L227.3 244.7L228.2 243.8L228.2 242.9L229.4 243.0M227.4 242.8L227.9 242.6M233.5 251.3L234.1 251.0L234.2 251.5M151.1 217.2L152.6 217.3L152.3 218.7L151.9 220.3L152.0 220.9M163.6 200.5L164.3 198.0L164.2 194.7L165.6 191.8L166.8 187.9L169.4 186.2M169.4 186.2L170.2 187.1L172.0 186.9L172.7 184.7L174.0 184.5L174.6 186.1M165.7 209.1L166.8 209.7L168.3 210.5L170.5 210.9M165.2 211.3L165.9 211.0L167.1 211.3L168.3 210.5M167.1 211.3L167.3 211.9L168.3 212.1L170.4 211.5M167.3 211.9L166.6 212.9L165.1 213.3M166.6 212.9L166.9 213.3L168.3 213.8L169.2 213.6M165.1 214.1L166.1 214.1L166.9 213.3M168.3 213.8L168.4 214.7L168.6 215.9L168.1 216.7M166.4 214.4L168.4 214.7M166.4 214.4L166.5 215.4L167.5 216.4M168.6 215.9L169.2 216.5L169.3 216.9M168.6 217.2L169.3 216.9L170.5 216.9M170.7 215.3L170.5 216.5L170.5 216.9L170.8 217.7M170.8 217.7L171.8 217.5L172.9 217.4L174.0 217.1M172.9 217.4L172.7 218.1M169.0 219.0L169.6 218.1L170.8 217.7M169.6 218.1L169.3 216.9M162.6 212.4L163.1 213.0M160.3 213.4L160.9 213.8M161.3 212.3L162.6 212.4L162.8 212.4M160.3 210.5L160.3 209.8M152.1 205.0L151.5 205.5L152.7 205.9" fill="none" stroke="#fff" stroke-width="0.6" stroke-linejoin="round"/></g>
<text x="50" y="60.6" font-size="33" font-weight="bold" text-anchor="start" fill="#3b3b3b" textLength="99.6" lengthAdjust="spacingAndGlyphs">Мазут</text>
<text x="50" y="115" font-size="11.4" font-weight="normal" text-anchor="start" fill="#2a2a2a" textLength="102" lengthAdjust="spacingAndGlyphs" stroke="#2a2a2a" stroke-width="0.35">Страны-покупатели</text>
<text x="142" y="135.9" font-size="10.2" font-weight="normal" text-anchor="start" fill="#2a2a2a" textLength="63.2" lengthAdjust="spacingAndGlyphs" stroke="#2a2a2a" stroke-width="0.3">20 стран мира</text>
<text x="308" y="112.3" font-size="11.4" font-weight="normal" text-anchor="start" fill="#2a2a2a" textLength="168.7" lengthAdjust="spacingAndGlyphs" stroke="#2a2a2a" stroke-width="0.35">Объем экспорта в млн долларов</text>
<text x="548" y="112.3" font-size="11.4" font-weight="normal" text-anchor="start" fill="#2a2a2a" textLength="142.3" lengthAdjust="spacingAndGlyphs" stroke="#2a2a2a" stroke-width="0.35">Объем экспорта в тыс тонн</text>
<rect x="306.3" y="250.52" width="219.7" height="0.9" fill="#bcbcbc"/>
<rect x="306.3" y="227.98" width="219.7" height="0.9" fill="#bcbcbc"/>
<rect x="306.3" y="205.45" width="219.7" height="0.9" fill="#bcbcbc"/>
<rect x="306.3" y="182.92" width="219.7" height="0.9" fill="#bcbcbc"/>
<rect x="306.3" y="160.38" width="219.7" height="0.9" fill="#bcbcbc"/>
<rect x="306.3" y="137.85" width="219.7" height="0.9" fill="#bcbcbc"/>
<rect x="330.30" y="163.38" width="20.6" height="110.12" fill="#8cc3a7"/>
<rect x="363.90" y="149.18" width="20.6" height="124.32" fill="#8cc3a7"/>
<rect x="397.50" y="154.45" width="20.6" height="119.05" fill="#8cc3a7"/>
<rect x="431.10" y="215.59" width="20.6" height="57.91" fill="#8cc3a7"/>
<rect x="464.70" y="245.99" width="20.6" height="27.51" fill="#8cc3a7"/>
<rect x="498.30" y="230.51" width="20.6" height="42.99" fill="#8cc3a7"/>
<rect x="306.5" y="273.00" width="219.5" height="1.4" fill="#444"/>
<text x="306.2" y="271.6" font-size="7" font-weight="bold" text-anchor="start" fill="#444">0</text>
<text x="306.2" y="249.07" font-size="7" font-weight="bold" text-anchor="start" fill="#444">400</text>
<text x="306.2" y="226.53" font-size="7" font-weight="bold" text-anchor="start" fill="#444">800</text>
<text x="306.2" y="204.0" font-size="7" font-weight="bold" text-anchor="start" fill="#444">1200</text>
<text x="306.2" y="181.47" font-size="7" font-weight="bold" text-anchor="start" fill="#444">1600</text>
<text x="306.2" y="158.93" font-size="7" font-weight="bold" text-anchor="start" fill="#444">2000</text>
<text x="306.2" y="136.4" font-size="7" font-weight="bold" text-anchor="start" fill="#444">2400</text>
<text x="340.6" y="283.3" font-size="7" font-weight="bold" text-anchor="middle" fill="#444">2012</text>
<text transform="translate(344.00,271.5) rotate(-90)" font-size="9.5" fill="#333" stroke="#333" stroke-width="0.2">1 954.8</text>
<text x="374.20000000000005" y="283.3" font-size="7" font-weight="bold" text-anchor="middle" fill="#444">2013</text>
<text transform="translate(377.60,271.5) rotate(-90)" font-size="9.5" fill="#333" stroke="#333" stroke-width="0.2">2 206.8</text>
<text x="407.8" y="283.3" font-size="7" font-weight="bold" text-anchor="middle" fill="#444">2014</text>
<text transform="translate(411.20,271.5) rotate(-90)" font-size="9.5" fill="#333" stroke="#333" stroke-width="0.2">2 113.3</text>
<text x="441.40000000000003" y="283.3" font-size="7" font-weight="bold" text-anchor="middle" fill="#444">2015</text>
<text transform="translate(444.80,271.5) rotate(-90)" font-size="9.5" fill="#333" stroke="#333" stroke-width="0.2">1 027.9</text>
<text x="475.0" y="283.3" font-size="7" font-weight="bold" text-anchor="middle" fill="#444">2016</text>
<text transform="translate(478.40,271.5) rotate(-90)" font-size="9.5" fill="#333" stroke="#333" stroke-width="0.2">488.3</text>
<text x="508.6" y="283.3" font-size="7" font-weight="bold" text-anchor="middle" fill="#444">2017</text>
<text transform="translate(512.00,271.5) rotate(-90)" font-size="9.5" fill="#333" stroke="#333" stroke-width="0.2">763.1</text>
<rect x="546.3" y="256.15" width="219.7" height="0.9" fill="#bcbcbc"/>
<rect x="546.3" y="239.25" width="219.7" height="0.9" fill="#bcbcbc"/>
<rect x="546.3" y="222.35" width="219.7" height="0.9" fill="#bcbcbc"/>
<rect x="546.3" y="205.45" width="219.7" height="0.9" fill="#bcbcbc"/>
<rect x="546.3" y="188.55" width="219.7" height="0.9" fill="#bcbcbc"/>
<rect x="546.3" y="171.65" width="219.7" height="0.9" fill="#bcbcbc"/>
<rect x="546.3" y="154.75" width="219.7" height="0.9" fill="#bcbcbc"/>
<rect x="546.3" y="137.85" width="219.7" height="0.9" fill="#bcbcbc"/>
<rect x="570.30" y="165.61" width="20.6" height="107.89" fill="#aa90c8"/>
<rect x="603.90" y="145.87" width="20.6" height="127.63" fill="#aa90c8"/>
<rect x="637.50" y="154.18" width="20.6" height="119.32" fill="#aa90c8"/>
<rect x="671.10" y="158.14" width="20.6" height="115.36" fill="#aa90c8"/>
<rect x="704.70" y="188.44" width="20.6" height="85.06" fill="#aa90c8"/>
<rect x="738.30" y="181.70" width="20.6" height="91.80" fill="#aa90c8"/>
<rect x="546.5" y="273.00" width="219.5" height="1.4" fill="#444"/>
<text x="546.2" y="271.6" font-size="7" font-weight="bold" text-anchor="start" fill="#444">0</text>
<text x="546.2" y="254.7" font-size="7" font-weight="bold" text-anchor="start" fill="#444">500</text>
<text x="546.2" y="237.8" font-size="7" font-weight="bold" text-anchor="start" fill="#444">1000</text>
<text x="546.2" y="220.9" font-size="7" font-weight="bold" text-anchor="start" fill="#444">1500</text>
<text x="546.2" y="204.0" font-size="7" font-weight="bold" text-anchor="start" fill="#444">2000</text>
<text x="546.2" y="187.1" font-size="7" font-weight="bold" text-anchor="start" fill="#444">2500</text>
<text x="546.2" y="170.2" font-size="7" font-weight="bold" text-anchor="start" fill="#444">3000</text>
<text x="546.2" y="153.3" font-size="7" font-weight="bold" text-anchor="start" fill="#444">3500</text>
<text x="546.2" y="136.4" font-size="7" font-weight="bold" text-anchor="start" fill="#444">4000</text>
<text x="580.6" y="283.3" font-size="7" font-weight="bold" text-anchor="middle" fill="#444">2012</text>
<text transform="translate(584.00,271.5) rotate(-90)" font-size="9.5" fill="#333" stroke="#333" stroke-width="0.2">3 191.9</text>
<text x="614.2" y="283.3" font-size="7" font-weight="bold" text-anchor="middle" fill="#444">2013</text>
<text transform="translate(617.60,271.5) rotate(-90)" font-size="9.5" fill="#333" stroke="#333" stroke-width="0.2">3 775.9</text>
<text x="647.8" y="283.3" font-size="7" font-weight="bold" text-anchor="middle" fill="#444">2014</text>
<text transform="translate(651.20,271.5) rotate(-90)" font-size="9.5" fill="#333" stroke="#333" stroke-width="0.2">3 530.2</text>
<text x="681.4000000000001" y="283.3" font-size="7" font-weight="bold" text-anchor="middle" fill="#444">2015</text>
<text transform="translate(684.80,271.5) rotate(-90)" font-size="9.5" fill="#333" stroke="#333" stroke-width="0.2">3 413.0</text>
<text x="715.0" y="283.3" font-size="7" font-weight="bold" text-anchor="middle" fill="#444">2016</text>
<text transform="translate(718.40,271.5) rotate(-90)" font-size="9.5" fill="#333" stroke="#333" stroke-width="0.2">2 516.7</text>
<text x="748.6" y="283.3" font-size="7" font-weight="bold" text-anchor="middle" fill="#444">2017</text>
<text transform="translate(752.00,271.5) rotate(-90)" font-size="9.5" fill="#333" stroke="#333" stroke-width="0.2">2 716.1</text>
<rect x="31.8" y="393.74" width="742.2" height="1" fill="#000" fill-opacity="0.4"/>
<text x="31.8" y="391.94" font-size="7" font-weight="bold" text-anchor="start" fill="#444">-100K</text>
<rect x="31.8" y="381.50" width="742.2" height="1" fill="#000" fill-opacity="0.27"/>
<text x="31.8" y="379.7" font-size="7" font-weight="bold" text-anchor="start" fill="#444">0</text>
<rect x="31.8" y="369.26" width="742.2" height="1" fill="#000" fill-opacity="0.27"/>
<text x="31.8" y="367.46" font-size="7" font-weight="bold" text-anchor="start" fill="#444">100K</text>
<rect x="31.8" y="357.02" width="742.2" height="1" fill="#000" fill-opacity="0.27"/>
<text x="31.8" y="355.22" font-size="7" font-weight="bold" text-anchor="start" fill="#444">200K</text>
<rect x="31.8" y="344.78" width="742.2" height="1" fill="#000" fill-opacity="0.27"/>
<text x="31.8" y="342.98" font-size="7" font-weight="bold" text-anchor="start" fill="#444">300K</text>
<rect x="31.8" y="332.54" width="742.2" height="1" fill="#000" fill-opacity="0.27"/>
<text x="31.8" y="330.74" font-size="7" font-weight="bold" text-anchor="start" fill="#444">400K</text>
<rect x="31.8" y="320.30" width="742.2" height="1" fill="#000" fill-opacity="0.27"/>
<text x="31.8" y="318.5" font-size="7" font-weight="bold" text-anchor="start" fill="#444">500K</text>
<rect x="31.8" y="308.06" width="742.2" height="1" fill="#000" fill-opacity="0.27"/>
<text x="31.8" y="306.26" font-size="7" font-weight="bold" text-anchor="start" fill="#444">600K</text>
<rect x="31.8" y="295.82" width="742.2" height="1" fill="#000" fill-opacity="0.27"/>
<text x="31.8" y="294.02" font-size="7" font-weight="bold" text-anchor="start" fill="#444">700K</text>
<rect x="71.10" y="296.32" width="1" height="97.92" fill="#000" fill-opacity="0.25"/>
<rect x="107.15" y="296.32" width="1" height="97.92" fill="#000" fill-opacity="0.25"/>
<rect x="143.20" y="296.32" width="1" height="97.92" fill="#000" fill-opacity="0.25"/>
<rect x="179.25" y="296.32" width="1" height="97.92" fill="#000" fill-opacity="0.25"/>
<rect x="215.30" y="296.32" width="1" height="97.92" fill="#000" fill-opacity="0.25"/>
<rect x="251.35" y="296.32" width="1" height="97.92" fill="#000" fill-opacity="0.25"/>
<rect x="287.40" y="296.32" width="1" height="97.92" fill="#000" fill-opacity="0.25"/>
<rect x="323.45" y="296.32" width="1" height="97.92" fill="#000" fill-opacity="0.25"/>
<rect x="359.50" y="296.32" width="1" height="97.92" fill="#000" fill-opacity="0.25"/>
<rect x="395.55" y="296.32" width="1" height="97.92" fill="#000" fill-opacity="0.25"/>
<rect x="431.60" y="296.32" width="1" height="97.92" fill="#000" fill-opacity="0.25"/>
<rect x="467.65" y="296.32" width="1" height="97.92" fill="#000" fill-opacity="0.25"/>
<rect x="503.70" y="296.32" width="1" height="97.92" fill="#000" fill-opacity="0.25"/>
<rect x="539.75" y="296.32" width="1" height="97.92" fill="#000" fill-opacity="0.25"/>
<rect x="575.80" y="296.32" width="1" height="97.92" fill="#000" fill-opacity="0.25"/>
<rect x="611.85" y="296.32" width="1" height="97.92" fill="#000" fill-opacity="0.25"/>
<rect x="647.90" y="296.32" width="1" height="97.92" fill="#000" fill-opacity="0.25"/>
<rect x="683.95" y="296.32" width="1" height="97.92" fill="#000" fill-opacity="0.25"/>
<rect x="720.00" y="296.32" width="1" height="97.92" fill="#000" fill-opacity="0.25"/>
<rect x="756.05" y="296.32" width="1" height="97.92" fill="#000" fill-opacity="0.25"/>
<polyline points="71.60,381.60 107.65,379.40 143.70,381.90 179.75,381.90 215.80,382.20 251.85,380.30 287.90,380.90 323.95,381.60 360.00,380.90 396.05,382.20 432.10,380.90 468.15,380.90 504.20,301.20 540.25,382.40 576.30,379.90 612.35,382.40 648.40,382.30 684.45,382.30 720.50,382.30 756.55,381.50" fill="none" stroke="#dc5057" stroke-width="1.2"/>
<circle cx="71.60" cy="381.60" r="2.3" fill="#dc5057"/>
<circle cx="107.65" cy="379.40" r="2.3" fill="#dc5057"/>
<circle cx="143.70" cy="381.90" r="2.3" fill="#dc5057"/>
<circle cx="179.75" cy="381.90" r="2.3" fill="#dc5057"/>
<circle cx="215.80" cy="382.20" r="2.3" fill="#dc5057"/>
<circle cx="251.85" cy="380.30" r="2.3" fill="#dc5057"/>
<circle cx="287.90" cy="380.90" r="2.3" fill="#dc5057"/>
<circle cx="323.95" cy="381.60" r="2.3" fill="#dc5057"/>
<circle cx="360.00" cy="380.90" r="2.3" fill="#dc5057"/>
<circle cx="396.05" cy="382.20" r="2.3" fill="#dc5057"/>
<circle cx="432.10" cy="380.90" r="2.3" fill="#dc5057"/>
<circle cx="468.15" cy="380.90" r="2.3" fill="#dc5057"/>
<circle cx="504.20" cy="301.20" r="2.3" fill="#dc5057"/>
<circle cx="540.25" cy="382.40" r="2.3" fill="#dc5057"/>
<circle cx="576.30" cy="379.90" r="2.3" fill="#dc5057"/>
<circle cx="612.35" cy="382.40" r="2.3" fill="#dc5057"/>
<circle cx="648.40" cy="382.30" r="2.3" fill="#dc5057"/>
<circle cx="684.45" cy="382.30" r="2.3" fill="#dc5057"/>
<circle cx="720.50" cy="382.30" r="2.3" fill="#dc5057"/>
<circle cx="756.55" cy="381.50" r="2.3" fill="#dc5057"/>
<text x="71.6" y="404.4" font-size="7" font-weight="bold" text-anchor="middle" fill="#444" textLength="30.69" lengthAdjust="spacingAndGlyphs">Беларусь</text>
<text x="107.65" y="404.4" font-size="7" font-weight="bold" text-anchor="middle" fill="#444" textLength="31.32" lengthAdjust="spacingAndGlyphs">Кыргызст</text>
<text x="107.65" y="412.9" font-size="7" font-weight="bold" text-anchor="middle" fill="#444" textLength="7.47" lengthAdjust="spacingAndGlyphs">ан</text>
<text x="143.7" y="404.4" font-size="7" font-weight="bold" text-anchor="middle" fill="#444" textLength="22.86" lengthAdjust="spacingAndGlyphs">Россия</text>
<text x="179.75" y="404.4" font-size="7" font-weight="bold" text-anchor="middle" fill="#444" textLength="30.89" lengthAdjust="spacingAndGlyphs">Азербайд</text>
<text x="179.75" y="412.9" font-size="7" font-weight="bold" text-anchor="middle" fill="#444" textLength="12.12" lengthAdjust="spacingAndGlyphs">жан</text>
<text x="215.8" y="404.4" font-size="7" font-weight="bold" text-anchor="middle" fill="#444" textLength="30.73" lengthAdjust="spacingAndGlyphs">Таджикис</text>
<text x="215.8" y="412.9" font-size="7" font-weight="bold" text-anchor="middle" fill="#444" textLength="10.62" lengthAdjust="spacingAndGlyphs">тан</text>
<text x="251.85" y="404.4" font-size="7" font-weight="bold" text-anchor="middle" fill="#444" textLength="25.93" lengthAdjust="spacingAndGlyphs">Украина</text>
<text x="287.9" y="404.4" font-size="7" font-weight="bold" text-anchor="middle" fill="#444" textLength="15.71" lengthAdjust="spacingAndGlyphs">Кипр</text>
<text x="323.95" y="404.4" font-size="7" font-weight="bold" text-anchor="middle" fill="#444" textLength="30.62" lengthAdjust="spacingAndGlyphs">Германия</text>
<text x="360.0" y="404.4" font-size="7" font-weight="bold" text-anchor="middle" fill="#444" textLength="26.77" lengthAdjust="spacingAndGlyphs">Эстония</text>
<text x="396.05" y="404.4" font-size="7" font-weight="bold" text-anchor="middle" fill="#444" textLength="28.58" lengthAdjust="spacingAndGlyphs">Франция</text>
<text x="432.1" y="404.4" font-size="7" font-weight="bold" text-anchor="middle" fill="#444" textLength="23.17" lengthAdjust="spacingAndGlyphs">Италия</text>
<text x="468.15" y="404.4" font-size="7" font-weight="bold" text-anchor="middle" fill="#444" textLength="23.24" lengthAdjust="spacingAndGlyphs">Мальта</text>
<text x="504.2" y="404.4" font-size="7" font-weight="bold" text-anchor="middle" fill="#444" textLength="31.62" lengthAdjust="spacingAndGlyphs">Нидерлан</text>
<text x="504.2" y="412.9" font-size="7" font-weight="bold" text-anchor="middle" fill="#444" textLength="9.59" lengthAdjust="spacingAndGlyphs">ды</text>
<text x="540.25" y="404.4" font-size="7" font-weight="bold" text-anchor="middle" fill="#444" textLength="29.66" lengthAdjust="spacingAndGlyphs">Румыния</text>
<text x="576.3" y="404.4" font-size="7" font-weight="bold" text-anchor="middle" fill="#444" textLength="21.67" lengthAdjust="spacingAndGlyphs">Грузия</text>
<text x="612.35" y="404.4" font-size="7" font-weight="bold" text-anchor="middle" fill="#444" textLength="19.77" lengthAdjust="spacingAndGlyphs">Дания</text>
<text x="648.4" y="404.4" font-size="7" font-weight="bold" text-anchor="middle" fill="#444" textLength="33.13" lengthAdjust="spacingAndGlyphs">Финлянди</text>
<text x="648.4" y="412.9" font-size="7" font-weight="bold" text-anchor="middle" fill="#444" textLength="3.76" lengthAdjust="spacingAndGlyphs">я</text>
<text x="684.45" y="404.4" font-size="7" font-weight="bold" text-anchor="middle" fill="#444" textLength="19.09" lengthAdjust="spacingAndGlyphs">Литва</text>
<text x="720.5" y="404.4" font-size="7" font-weight="bold" text-anchor="middle" fill="#444" textLength="23.09" lengthAdjust="spacingAndGlyphs">Латвия</text>
<text x="756.55" y="404.4" font-size="7" font-weight="bold" text-anchor="middle" fill="#444" textLength="30.08" lengthAdjust="spacingAndGlyphs">Сингапур</text>
</svg>
<div class="edge-b"></div><div class="edge-r"></div><div class="edge-c"></div>
</body></html>
